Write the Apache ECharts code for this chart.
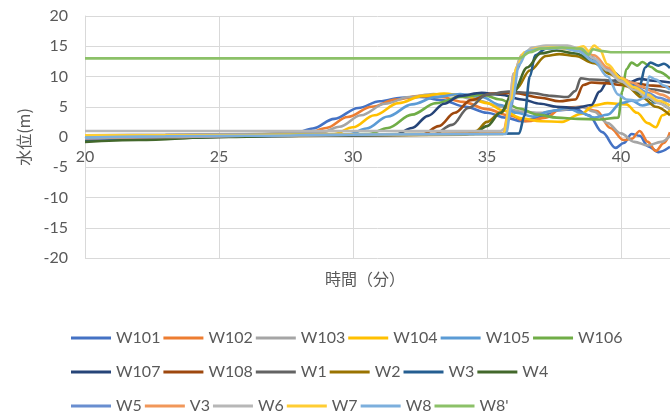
<!DOCTYPE html>
<html>
<head>
<meta charset="utf-8">
<script src="https://cdn.jsdelivr.net/npm/echarts@6/dist/echarts.min.js"></script>
<style>
html,body{margin:0;padding:0;background:#fff}
#chart{width:670px;height:417px}
</style>
</head>
<body>
<div id="chart"></div>
<script>
//水位データ [時間(分), 水位(m)]
var w101 = [[20,0.2],[23,0.3],[26,0.4],[27.8,0.6],[28.5,1.4],[29.3,3.0],[30.2,4.8],[31,5.9],[31.8,6.5],[32.5,6.6],[33.3,6.1],[34.2,5.0],[35,4.0],[35.7,3.2],[36.3,2.6],[37,3.3],[37.6,4.4],[38.3,4.6],[38.8,3.6],[39.3,0.8],[39.8,-1.8],[40.1,-1.0],[40.4,0.5],[40.7,0.2],[41,-1.5],[41.4,-2.5],[41.83,-1.6]];
var w102 = [[20,0.1],[23,0.2],[26,0.4],[28.3,0.6],[29,1.5],[29.8,3.3],[30.7,5.0],[31.6,6.2],[32.5,6.8],[33.3,6.6],[34.1,5.8],[35,4.6],[35.8,3.6],[36.5,2.6],[37.2,3.2],[37.8,4.8],[38.5,5.0],[39.1,4.3],[39.6,1.5],[40.1,-0.5],[40.4,-0.3],[40.7,1.0],[41,-0.8],[41.3,-2.3],[41.6,-1.0],[41.83,0.8]];
var w103 = [[20,0.3],[23,0.4],[26,0.5],[28.8,0.7],[29.5,1.7],[30.3,3.6],[31.2,5.5],[32.1,6.6],[33,7.1],[33.8,6.9],[34.7,6.0],[35.5,5.0],[36.3,4.2],[37,4.0],[37.8,4.5],[38.5,5.0],[39,4.2],[39.5,2.3],[40,0.6],[40.5,-0.8],[41,-1.4],[41.5,-0.8],[41.83,0.2]];
var w104 = [[20,0.2],[23,0.2],[26,0.3],[29.3,0.5],[30,1.6],[30.8,3.6],[31.7,5.6],[32.6,6.8],[33.4,7.2],[34.2,6.8],[35,5.6],[35.6,4.4],[36.3,3.1],[37,2.6],[37.8,2.5],[38.5,3.8],[39,5.2],[39.5,5.6],[40.2,5.4],[40.6,4.0],[41,2.3],[41.3,1.6],[41.55,3.6],[41.83,4.4]];
var w105 = [[20,0.0],[23,0.1],[26,0.3],[29.9,0.5],[30.5,1.4],[31.3,3.4],[32.2,5.4],[33.1,6.6],[34,7.1],[34.8,6.6],[35.5,5.3],[36.1,4.0],[36.7,3.4],[37.4,4.3],[38,4.8],[38.5,4.0],[39,3.2],[39.5,3.7],[40,5.6],[40.4,6.0],[40.8,5.2],[41.2,5.6],[41.83,6.2]];
var w106 = [[20,0.0],[23,0.1],[26,0.2],[30.6,0.5],[31.3,1.5],[32.2,3.7],[33.1,5.6],[34,6.6],[34.8,7.0],[35.5,6.2],[36.2,4.7],[36.9,3.7],[37.6,3.2],[38.4,3.0],[39.2,2.9],[39.9,3.2],[40.05,7.5],[40.2,11.2],[40.4,12.3],[40.6,11.8],[40.8,12.4],[41.1,11.6],[41.4,10.8],[41.83,9.6]];
var w107 = [[20,-0.3],[23,0.0],[26,0.2],[31.6,0.4],[32.2,1.5],[32.8,3.5],[33.4,5.5],[34,6.8],[34.8,7.3],[35.5,7.0],[36.3,6.2],[37,5.5],[37.6,5.0],[38.3,4.8],[38.9,5.3],[39.2,7.5],[39.5,9.2],[39.9,9.4],[40.3,9.0],[40.7,9.6],[41.2,9.3],[41.83,9.0]];
var w108 = [[20,-0.4],[23,-0.1],[26,0.2],[32.6,0.4],[33.2,1.8],[33.8,4.0],[34.4,6.1],[35.2,7.2],[36,7.3],[37,6.5],[37.7,5.9],[38.3,6.2],[38.6,8.6],[38.9,9.0],[39.4,8.9],[40,8.6],[40.6,8.8],[41.2,8.5],[41.83,8.2]];
var w1 = [[20,-0.3],[23,0.0],[26,0.2],[33,0.4],[33.7,2.0],[34.3,4.8],[35,7.0],[35.8,7.5],[36.6,7.3],[37.4,6.8],[38,6.6],[38.3,7.6],[38.5,9.7],[38.9,9.5],[39.4,9.4],[39.9,9.1],[40.5,8.6],[41.1,7.9],[41.83,7.3]];
var w2 = [[20,-0.5],[23,-0.2],[26,0.1],[34.2,0.4],[34.6,1.0],[35,2.5],[35.5,4.0],[36.1,8.0],[36.6,11.0],[37.2,13.4],[37.7,13.7],[38.3,13.4],[39,12.2],[39.6,10.4],[40.2,8.4],[40.8,6.5],[41.3,5.0],[41.83,3.6]];
var w3 = [[20,-0.5],[23,-0.2],[26,0.1],[30,0.3],[36.2,0.6],[36.4,3.5],[36.6,10.0],[36.8,13.5],[37.2,14.6],[37.8,14.8],[38.4,14.3],[39,12.8],[39.6,11.0],[40.2,9.3],[40.7,8.4],[40.9,11.5],[41.1,12.3],[41.4,11.8],[41.6,12.1],[41.83,11.4]];
var w4 = [[20,-0.8],[22,-0.5],[25,0.0],[28,0.3],[32,0.5],[34.5,0.5],[35,1.8],[35.5,4.0],[36,7.5],[36.5,11.5],[37,13.8],[37.6,14.3],[38.3,13.8],[39,12.5],[39.6,10.8],[40.2,8.8],[40.8,7.0],[41.3,5.8],[41.83,4.6]];
var w5 = [[20,-0.3],[23,0.0],[26,0.2],[30,0.4],[35.6,0.5],[35.9,5.0],[36.1,11.0],[36.4,13.8],[36.8,14.6],[37.5,14.8],[38.3,14.5],[38.8,13.5],[39.4,11.5],[40,9.5],[40.5,8.4],[41,7.3],[41.4,6.5],[41.83,5.8]];
var v3 = [[20,-0.2],[23,0.0],[26,0.2],[30,0.4],[35.6,0.6],[35.8,4.0],[36,10.5],[36.3,13.6],[36.8,14.7],[37.5,14.9],[38.4,14.6],[39,13.5],[39.5,11.5],[40,9.8],[40.4,9.0],[40.8,8.3],[41.2,7.5],[41.5,7.0],[41.83,6.3]];
var w6 = [[20,1.0],[25,1.0],[30,1.0],[35.5,1.0],[35.7,1.5],[35.85,6.0],[36,10.5],[36.3,13.5],[36.7,14.8],[37.2,15.1],[38,15.1],[38.5,14.6],[39,13.0],[39.5,11.0],[40,9.2],[40.5,7.8],[41,6.6],[41.4,5.6],[41.83,4.6]];
var w7 = [[20,0.3],[23,0.3],[26,0.3],[30,0.4],[35.6,0.5],[35.9,6.0],[36.1,11.5],[36.4,14.0],[36.9,14.7],[37.5,14.8],[38.2,14.5],[38.6,15.0],[38.8,14.2],[39,15.1],[39.2,14.5],[39.5,12.0],[40,9.7],[40.5,8.2],[41,7.0],[41.4,6.0],[41.83,5.2]];
var w8 = [[20,-0.1],[23,0.1],[26,0.2],[30,0.4],[35.7,0.5],[35.95,6.0],[36.2,12.0],[36.5,14.2],[37,14.6],[37.8,14.7],[38.4,14.2],[39,12.5],[39.5,10.0],[39.9,7.0],[40.2,6.2],[40.6,6.0],[40.9,6.5],[41.05,10.0],[41.3,9.5],[41.6,8.5],[41.83,7.8]];
var w8p = [[20,13.0],[25,13.0],[30,13.0],[36.2,13.0],[36.6,14.0],[37,14.6],[37.8,14.8],[38.5,14.6],[38.8,13.6],[38.95,14.5],[39.3,14.2],[39.7,14.0],[41.83,14.0]];

var seriesNames = ['W101','W102','W103','W104','W105','W106','W107','W108','W1','W2','W3','W4','W5','V3','W6','W7','W8',"W8'"];
var seriesData = [w101,w102,w103,w104,w105,w106,w107,w108,w1,w2,w3,w4,w5,v3,w6,w7,w8,w8p];

//Excelの配色
var palette = ['#4472C4','#ED7D31','#A5A5A5','#FFC000','#5B9BD5','#70AD47','#264478','#9E480E','#636363','#997300','#255E91','#43682B','#698ED0','#F1975A','#B7B7B7','#FFCD33','#7CAFDD','#8CC168'];

var font_latin = "Lato, 'Noto Sans CJK JP', sans-serif";
var font_jp = "'Noto Sans CJK JP', sans-serif";

var series_list = [];
for (var i = 0; i < seriesNames.length; i++) {
    series_list.push({
        name: seriesNames[i],
        type: 'line',
        data: seriesData[i],
        symbol: 'none',
        smooth: 0.35,
        smoothMonotone: 'x',
        lineStyle: {width: 2.6, color: palette[i]},
        itemStyle: {color: palette[i]}
    });
}

//凡例は3行、各行6個
var legend_rows = [];
var row_top = [325, 359, 393];
for (var r = 0; r < 3; r++) {
    legend_rows.push({
        data: seriesNames.slice(r * 6, r * 6 + 6),
        left: 66,
        top: row_top[r],
        icon: 'rect',
        itemWidth: 40,
        itemHeight: 3,
        itemGap: 3,
        textStyle: {color: '#595959', fontSize: 16, fontFamily: font_latin, width: 44}
    });
}

var option = {
    animation: false,
    color: palette,
    grid: {left: 85, right: 0, top: 16, bottom: 159, containLabel: false},
    legend: legend_rows,
    xAxis: {
        type: 'value',
        min: 20,
        max: 41.83,
        interval: 5,
        offset: -121,   //0の位置に横軸
        name: '時間（分）',
        nameLocation: 'middle',
        nameGap: 134,
        nameTextStyle: {color: '#595959', fontSize: 16, fontFamily: font_jp, padding: [0, 25, 0, 0]},
        axisLine: {onZero: true, lineStyle: {color: '#d9d9d9', width: 1}},
        axisTick: {show: false},
        axisLabel: {color: '#595959', fontSize: 16, fontFamily: font_latin, margin: 12, showMaxLabel: false},
        splitLine: {show: true, lineStyle: {color: '#d9d9d9', width: 1}}
    },
    yAxis: {
        type: 'value',
        min: -20,
        max: 20,
        interval: 5,
        name: '水位(m)',
        nameLocation: 'middle',
        nameGap: 53,
        nameTextStyle: {color: '#595959', fontSize: 16, fontFamily: font_jp},
        axisLine: {show: true, lineStyle: {color: '#d9d9d9', width: 1}},
        axisTick: {show: false},
        axisLabel: {color: '#595959', fontSize: 16, fontFamily: font_latin, margin: 17},
        splitLine: {show: true, lineStyle: {color: '#d9d9d9', width: 1}}
    },
    series: series_list
};

var chart = echarts.init(document.getElementById('chart'));
chart.setOption(option);
</script>
</body>
</html>
